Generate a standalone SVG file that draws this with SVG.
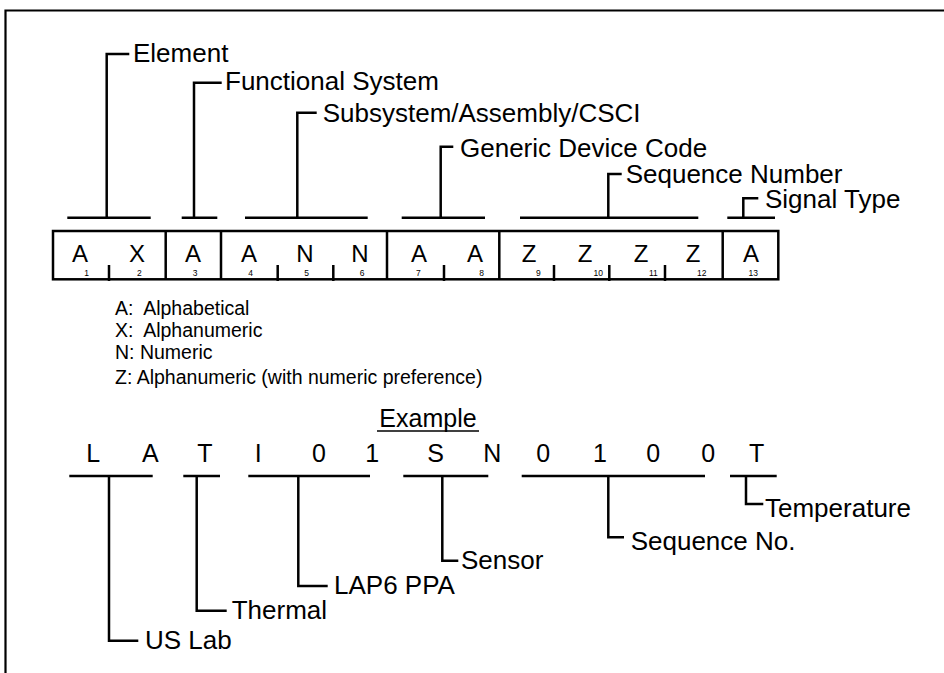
<svg xmlns="http://www.w3.org/2000/svg" width="944" height="673" viewBox="0 0 944 673">
<style>
.ln{stroke:#000;stroke-width:2.5;fill:none}
.lbl{font-family:"Liberation Sans",Arial,sans-serif;font-size:26px;fill:#000}
.big{font-family:"Liberation Sans",Arial,sans-serif;font-size:24px;fill:#000;text-anchor:middle}
.num{font-family:"Liberation Sans",Arial,sans-serif;font-size:8.5px;fill:#000;text-anchor:middle}
.leg{font-family:"Liberation Sans",Arial,sans-serif;font-size:19.5px;fill:#000}
</style>
<rect width="944" height="673" fill="#fff"/>
<path d="M5.5 673 V10.5 H944" stroke="#000" stroke-width="2.2" fill="none"/>

<g id="code-box">
<rect x="53" y="231" width="725.3" height="48.3" class="ln"/>
<path class="ln" d="M165.7 231 V280 M221 231 V280 M387 231 V280 M499.3 231 V280 M722.7 231 V280"/>
<path class="ln" d="M109 265 V281 M277.7 265 V281 M333.3 265 V281 M444 265 V281 M554 265 V281 M609.3 265 V281 M665 265 V281"/>
<g class="big">
<text x="80" y="262">A</text><text x="137" y="262">X</text><text x="193" y="262">A</text>
<text x="249" y="262">A</text><text x="305" y="262">N</text><text x="360" y="262">N</text>
<text x="419" y="262">A</text><text x="475" y="262">A</text>
<text x="529" y="262">Z</text><text x="585" y="262">Z</text><text x="641" y="262">Z</text><text x="693" y="262">Z</text>
<text x="751" y="262">A</text>
</g>
<g class="num">
<text x="86.7" y="276">1</text><text x="139.3" y="276">2</text><text x="195" y="276">3</text>
<text x="250.7" y="276">4</text><text x="306.7" y="276">5</text><text x="362" y="276">6</text>
<text x="418.3" y="276">7</text><text x="481.7" y="276">8</text><text x="538.3" y="276">9</text>
<text x="598.3" y="276">10</text><text x="653.3" y="276">11</text><text x="701.7" y="276">12</text>
<text x="753.3" y="276">13</text>
</g>
</g>

<g id="connectors">
<path class="ln" d="M67.3 217.7 H150.7 M106.7 217.7 V54 H129.3"/>
<path class="ln" d="M181.7 217.7 H217.3 M194 217.7 V82.7 H221.7"/>
<path class="ln" d="M245 217.7 H367.7 M297.3 217.7 V112.7 H316.7"/>
<path class="ln" d="M401.7 217.7 H485 M440.7 217.7 V146.7 H453.3"/>
<path class="ln" d="M520 217.7 H698.3 M608.3 217.7 V174 H621.7"/>
<path class="ln" d="M727.3 217.7 H775 M743.3 217.7 V198.3 H758.3"/>

<path class="ln" d="M69.3 476 H152.7 M109 476 V640.7 H138.3"/>
<path class="ln" d="M183.3 476 H220 M196.7 476 V610.7 H226.7"/>
<path class="ln" d="M248.3 476 H370 M298.3 476 V586 H327.7"/>
<path class="ln" d="M403.3 476 H488.3 M442.3 476 V560.7 H458.3"/>
<path class="ln" d="M521.7 476 H705 M608.3 476 V537.3 H624"/>
<path class="ln" d="M730 476 H776.7 M746 476 V504 H763.3"/>
</g>

<g id="top-labels" class="lbl">
<text id="element" x="133" y="61.5">Element</text>
<text id="functional-system" x="225" y="90">Functional System</text>
<text id="subsystem" x="322.7" y="121.7">Subsystem/Assembly/CSCI</text>
<text id="generic-device-code" x="460" y="156.7">Generic Device Code</text>
<text id="sequence-number" x="625.7" y="182.7">Sequence Number</text>
<text id="signal-type" x="765" y="208.3">Signal Type</text>
</g>

<g id="legend" class="leg">
<text x="115" y="315" xml:space="preserve">A:  Alphabetical</text>
<text x="115" y="337" xml:space="preserve">X:  Alphanumeric</text>
<text x="115" y="359">N: Numeric</text>
<text x="115" y="384">Z: Alphanumeric (with numeric preference)</text>
</g>

<g id="example-title">
<text class="lbl" x="428" y="427" style="font-size:25px;text-anchor:middle">Example</text>
<line x1="377" y1="431" x2="479" y2="431" stroke="#000" stroke-width="1.5"/>
</g>

<g id="example-code" class="big" style="font-size:25px">
<text x="93.3" y="462">L</text><text x="150.3" y="462">A</text><text x="205" y="462">T</text>
<text x="258.3" y="462">I</text><text x="319" y="462">0</text><text x="372.3" y="462">1</text>
<text x="435.7" y="462">S</text><text x="492.3" y="462">N</text><text x="543.3" y="462">0</text>
<text x="600" y="462">1</text><text x="653.3" y="462">0</text><text x="708.3" y="462">0</text>
<text x="756.7" y="462">T</text>
</g>

<g id="bottom-labels" class="lbl">
<text id="temperature" x="765" y="516.7">Temperature</text>
<text id="sequence-no" x="630.7" y="550">Sequence No.</text>
<text id="sensor" x="461" y="569">Sensor</text>
<text id="lap6-ppa" x="334" y="594">LAP6 PPA</text>
<text id="thermal" x="231.7" y="619.3">Thermal</text>
<text id="us-lab" x="145" y="649">US Lab</text>
</g>
</svg>
